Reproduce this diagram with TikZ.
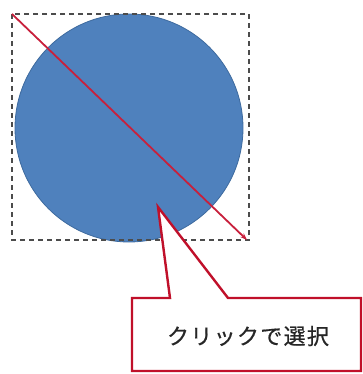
\documentclass[tikz,border=0pt]{standalone}
\usepackage{fontspec}
\newfontfamily\jpfont[LetterSpace=6, FakeBold=0.6]{Noto Sans CJK JP}
\usepackage{tikz}
\usetikzlibrary{arrows.meta, calc, positioning}

\definecolor{shapeblue}{HTML}{4F81BD}
\definecolor{shapeedge}{HTML}{3D6A9E}
\definecolor{selred}{HTML}{C8203C}
\definecolor{calloutred}{HTML}{C0102A}

\begin{document}
\begin{tikzpicture}[
    x=1pt, y=-1pt,
    diskshape/.style={circle, fill=shapeblue, draw=shapeedge, line width=0.8pt,
        minimum size=228pt, inner sep=0pt},
    selbox/.style={draw=black!70, dashed, dash pattern=on 5pt off 4pt, line width=1.2pt},
    selline/.style={-{Stealth[length=7pt, width=5pt]}, draw=selred, line width=1.8pt},
    callout/.style={draw=calloutred, fill=white, line width=2.4pt, line join=miter},
    calltext/.style={font=\jpfont\fontsize{22pt}{26pt}\selectfont, text=black!85},
]
\useasboundingbox (0,0) rectangle (363,374);

% Shape and its selection box
\node[diskshape] (disk) at (129,128) {};
\coordinate (selnw) at (12,14);
\coordinate (selse) at (249,240);
\draw[selbox] (selnw) rectangle (selse);

% Drag line across the shape
\coordinate (dragend) at (247,240);
\draw[selline] (selnw) -- (dragend);

% Callout
\coordinate (tip) at (158,207);
\draw[callout] (132,298) -- (170,298) -- (tip) -- (228,298) -- (361,298)
    -- (361,371) -- (132,371) -- cycle;
\node[calltext] (label) at (248,336) {クリックで選択};
\end{tikzpicture}
\end{document}
